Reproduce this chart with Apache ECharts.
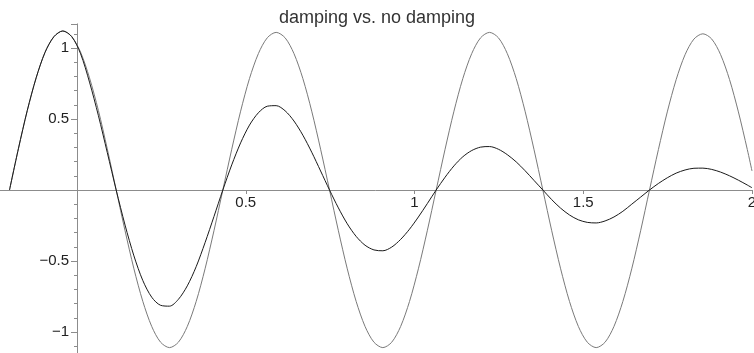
<!DOCTYPE html>
<html>
<head>
<meta charset="utf-8">
<script src="https://cdn.jsdelivr.net/npm/echarts@6/dist/echarts.min.js"></script>
<style>
  html, body { margin: 0; padding: 0; background: #fff; }
  #chart { width: 754px; height: 353px; }
</style>
</head>
<body>
<div id="chart"></div>
<script>
// sample positions along t
const xs = [-0.2000, -0.1737, -0.1473, -0.1210, -0.0946, -0.0683, -0.0420, -0.0156,
            0.0107, 0.0370, 0.0634, 0.0897, 0.1161, 0.1424, 0.1687, 0.1951,
            0.2214, 0.2477, 0.2741, 0.3004, 0.3268, 0.3531, 0.3794, 0.4058,
            0.4321, 0.4585, 0.4848, 0.5111, 0.5375, 0.5638, 0.5901, 0.6165,
            0.6428, 0.6692, 0.6955, 0.7218, 0.7482, 0.7745, 0.8008, 0.8272,
            0.8535, 0.8799, 0.9062, 0.9325, 0.9589, 0.9852, 1.0115, 1.0379,
            1.0642, 1.0906, 1.1169, 1.1432, 1.1696, 1.1959, 1.2223, 1.2486,
            1.2749, 1.3013, 1.3276, 1.3539, 1.3803, 1.4066, 1.4330, 1.4593,
            1.4856, 1.5120, 1.5383, 1.5646, 1.5910, 1.6173, 1.6437, 1.6700,
            1.6963, 1.7227, 1.7490, 1.7754, 1.8017, 1.8280, 1.8544, 1.8807,
            1.9070, 1.9334, 1.9597, 1.9861, 2.0000];

// undamped oscillation
const noDamping = [0, 0.29, 0.56, 0.79, 0.97, 1.08, 1.12, 1.08,
                   0.97, 0.79, 0.56, 0.29, 0, -0.287, -0.555, -0.785,
                   -0.961, -1.072, -1.11, -1.072, -0.961, -0.785, -0.555, -0.287,
                   0, 0.287, 0.555, 0.785, 0.961, 1.072, 1.11, 1.072,
                   0.961, 0.785, 0.555, 0.287, 0, -0.287, -0.555, -0.785,
                   -0.961, -1.072, -1.11, -1.072, -0.961, -0.785, -0.555, -0.287,
                   0, 0.287, 0.555, 0.785, 0.961, 1.072, 1.11, 1.072,
                   0.961, 0.785, 0.555, 0.287, 0, -0.287, -0.555, -0.785,
                   -0.961, -1.072, -1.11, -1.072, -0.961, -0.785, -0.555, -0.287,
                   0, 0.285, 0.55, 0.778, 0.953, 1.063, 1.10, 1.063,
                   0.953, 0.778, 0.55, 0.285, 0.134];

// damped oscillation
const withDamping = [0, 0.29, 0.56, 0.79, 0.97, 1.08, 1.12, 1.08,
                     0.959, 0.760, 0.524, 0.264, 0, -0.247, -0.464, -0.638,
                     -0.755, -0.812, -0.818, -0.770, -0.675, -0.540, -0.371, -0.187,
                     0, 0.177, 0.332, 0.457, 0.544, 0.590, 0.594, 0.558,
                     0.486, 0.386, 0.266, 0.134, 0, -0.126, -0.238, -0.327,
                     -0.389, -0.422, -0.428, -0.402, -0.348, -0.276, -0.190, -0.096,
                     0, 0.090, 0.170, 0.234, 0.278, 0.302, 0.306, 0.287,
                     0.249, 0.198, 0.136, 0.068, 0, -0.068, -0.128, -0.176,
                     -0.210, -0.228, -0.232, -0.218, -0.190, -0.150, -0.100, -0.050,
                     0, 0.046, 0.086, 0.119, 0.141, 0.153, 0.154, 0.145,
                     0.126, 0.100, 0.069, 0.035, 0.016];

// axis tick labels
const xTickLabels = [0.5, 1, 1.5, 2];
const yTickLabels = [-1, -0.5, 0.5, 1];

const titleText = 'damping vs. no damping';

const axisGray = '#8c8c8c';

// plot frame: x from -0.5 to 2, y from -1.5 to 1.17; the axes are shifted
// inward so that they cross at the origin
const xMin = -0.5, xMax = 2, yMin = -1.5, yMax = 1.17;
const xPerUnit = 337.5, yPerUnit = 142;
const gridRight = 2, gridBottom = -50;
const gridLeft = 754 - gridRight - (xMax - xMin) * xPerUnit;
const gridTop = 353 - gridBottom - (yMax - yMin) * yPerUnit;

function pickLabel(list, v) {
  const n = Number(v);
  for (let i = 0; i < list.length; i++) {
    if (Math.abs(list[i] - n) < 1e-6) {
      return String(list[i]).replace('-', '\u2212');
    }
  }
  return '';
}

const chart = echarts.init(document.getElementById('chart'), null, { renderer: 'canvas' });

chart.setOption({
  animation: false,
  backgroundColor: '#fff',
  title: {
    text: titleText,
    left: 'center',
    top: 4,
    textStyle: { fontFamily: 'Liberation Sans, Arial, sans-serif', fontSize: 18, fontWeight: 'normal', color: '#333' }
  },
  grid: {
    left: gridLeft,
    right: gridRight,
    top: gridTop,
    bottom: gridBottom,
    containLabel: false,
    outerBoundsMode: 'none'
  },
  xAxis: {
    type: 'value',
    min: xMin,
    max: xMax,
    interval: 0.5,
    position: 'bottom',
    offset: yMin * yPerUnit,
    splitLine: { show: false },
    axisLine: { onZero: false, lineStyle: { color: axisGray, width: 1 } },
    axisTick: { show: true, length: 4, lineStyle: { color: axisGray } },
    axisLabel: {
      show: true,
      margin: 5,
      hideOverlap: false,
      fontFamily: 'Liberation Sans, Arial, sans-serif',
      fontSize: 15,
      color: '#222',
      formatter: function (v) { return pickLabel(xTickLabels, v); }
    }
  },
  yAxis: {
    type: 'value',
    min: yMin,
    max: yMax,
    interval: 0.5,
    position: 'left',
    offset: xMin * xPerUnit,
    splitLine: { show: false },
    axisLine: { onZero: false, lineStyle: { color: axisGray, width: 1 } },
    axisTick: { show: true, length: 6, lineStyle: { color: axisGray } },
    minorTick: { show: true, splitNumber: 5, length: 3, lineStyle: { color: axisGray } },
    axisLabel: {
      show: true,
      margin: 8,
      hideOverlap: false,
      fontFamily: 'Liberation Sans, Arial, sans-serif',
      fontSize: 15,
      color: '#222',
      formatter: function (v) { return pickLabel(yTickLabels, v); }
    }
  },
  series: [
    {
      name: 'no damping',
      type: 'line',
      data: xs.map(function (x, i) { return [x, noDamping[i]]; }),
      smooth: 0.3,
      symbol: 'none',
      lineStyle: { color: '#7a7a7a', width: 1 }
    },
    {
      name: 'damping',
      type: 'line',
      data: xs.map(function (x, i) { return [x, withDamping[i]]; }),
      smooth: 0.3,
      symbol: 'none',
      lineStyle: { color: '#1a1a1a', width: 1 }
    }
  ]
});
</script>
</body>
</html>
